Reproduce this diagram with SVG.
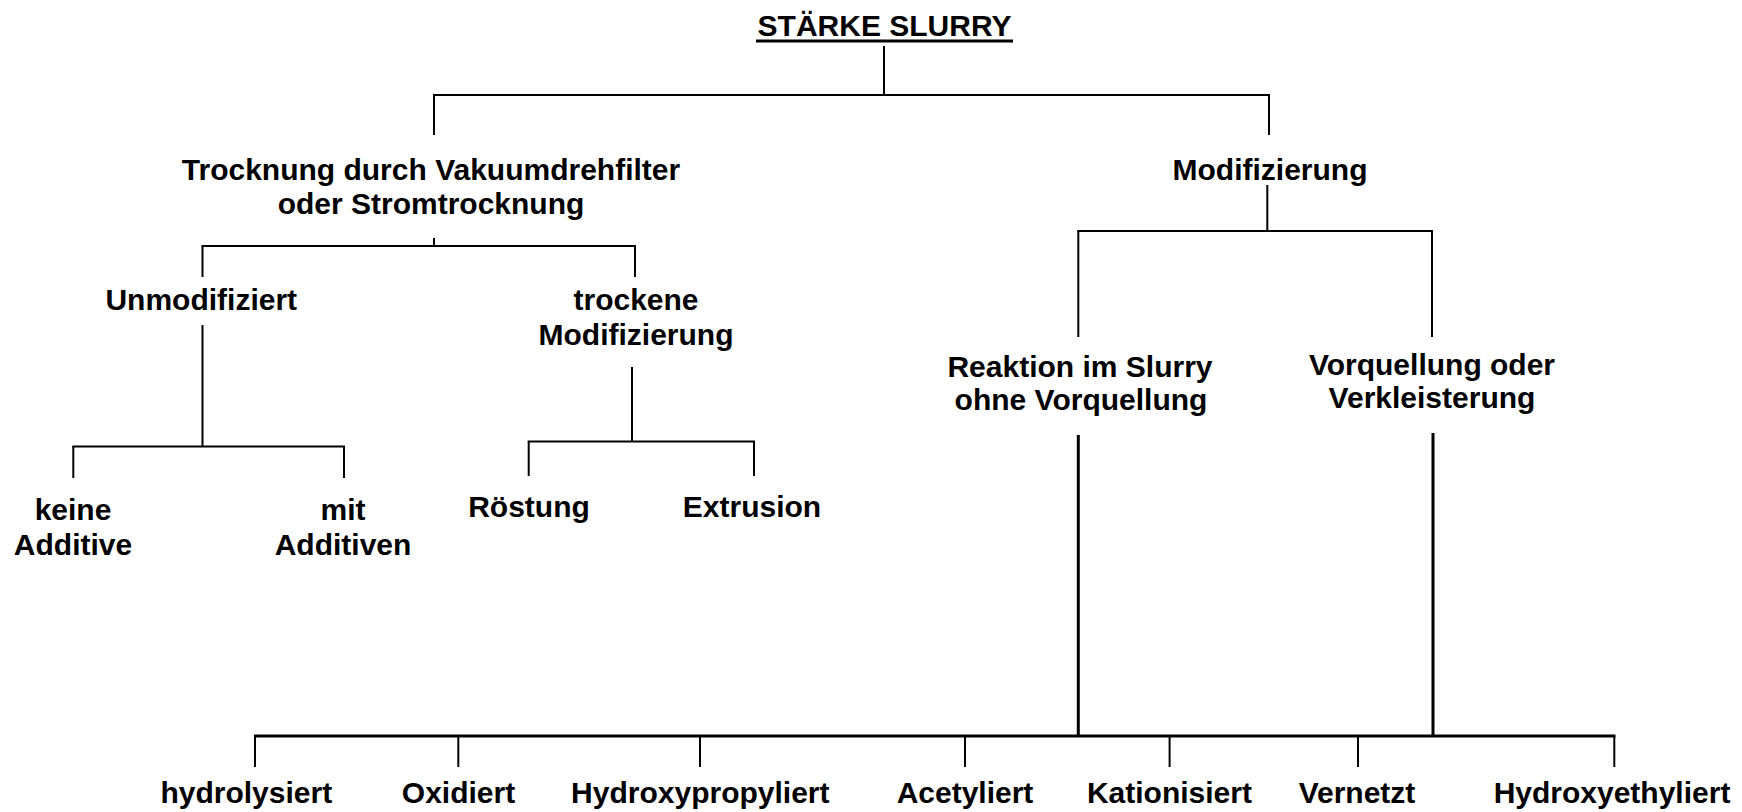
<svg xmlns="http://www.w3.org/2000/svg" width="1742" height="812" viewBox="0 0 1742 812">
<style>
text{font-family:"Liberation Sans",Arial,Helvetica,sans-serif;font-weight:bold;font-size:30px;fill:#000;text-anchor:middle}
.c line{stroke:#000;stroke-width:2;fill:none}
.c line.t{stroke-width:3}
</style>
<rect width="1742" height="812" fill="#fff"/>
<g class="c" id="connectors">
<line x1="884" y1="46" x2="884" y2="95"/>
<line x1="433" y1="95" x2="1270" y2="95"/>
<line x1="434" y1="95" x2="434" y2="135"/>
<line x1="1269" y1="95" x2="1269" y2="135"/>
<line x1="434" y1="238" x2="434" y2="246"/>
<line x1="201.5" y1="246" x2="636" y2="246"/>
<line x1="202.5" y1="246" x2="202.5" y2="277"/>
<line x1="635" y1="246" x2="635" y2="277"/>
<line x1="202.5" y1="325" x2="202.5" y2="446.5"/>
<line x1="72.3" y1="446.5" x2="345" y2="446.5"/>
<line x1="73.3" y1="446.5" x2="73.3" y2="478"/>
<line x1="344" y1="446.5" x2="344" y2="478"/>
<line x1="632" y1="367" x2="632" y2="441.5"/>
<line x1="527.7" y1="441.5" x2="755" y2="441.5"/>
<line x1="528.7" y1="441.5" x2="528.7" y2="476"/>
<line x1="754" y1="441.5" x2="754" y2="476"/>
<line x1="1267.3" y1="185" x2="1267.3" y2="231"/>
<line x1="1077.3" y1="231" x2="1433" y2="231"/>
<line x1="1078.3" y1="231" x2="1078.3" y2="337"/>
<line x1="1432" y1="231" x2="1432" y2="337"/>
<line class="t" x1="1078.3" y1="435" x2="1078.3" y2="736"/>
<line class="t" x1="1433" y1="433" x2="1433" y2="736"/>
<line class="t" x1="254" y1="736" x2="1615.5" y2="736"/>
<line x1="255" y1="736" x2="255" y2="767"/>
<line x1="458.3" y1="736" x2="458.3" y2="767"/>
<line x1="700" y1="736" x2="700" y2="767"/>
<line x1="965" y1="736" x2="965" y2="767"/>
<line x1="1169.6" y1="736" x2="1169.6" y2="767"/>
<line x1="1358" y1="736" x2="1358" y2="767"/>
<line x1="1614.3" y1="736" x2="1614.3" y2="767"/>
</g>
<g id="n-root"><text x="884.5" y="36">STÄRKE SLURRY</text><line x1="756" y1="41" x2="1013" y2="41" stroke="#000" stroke-width="3.2"/></g>
<g id="n-trocknung"><text x="431" y="180">Trocknung durch Vakuumdrehfilter</text><text x="431" y="214">oder Stromtrocknung</text></g>
<g id="n-modifizierung"><text x="1270" y="180">Modifizierung</text></g>
<g id="n-unmodifiziert"><text x="201.3" y="310">Unmodifiziert</text></g>
<g id="n-trockene"><text x="636" y="310">trockene</text><text x="636" y="345">Modifizierung</text></g>
<g id="n-keine"><text x="73" y="520">keine</text><text x="73" y="555">Additive</text></g>
<g id="n-mit"><text x="343" y="520">mit</text><text x="343" y="555">Additiven</text></g>
<g id="n-roestung"><text x="529" y="516.7">Röstung</text></g>
<g id="n-extrusion"><text x="752" y="516.7">Extrusion</text></g>
<g id="n-reaktion"><text x="1080" y="377">Reaktion im Slurry</text><text x="1081" y="410">ohne Vorquellung</text></g>
<g id="n-vorquellung"><text x="1432" y="375">Vorquellung oder</text><text x="1432" y="408.3">Verkleisterung</text></g>
<g id="n-hydrolysiert"><text x="246.3" y="803">hydrolysiert</text></g>
<g id="n-oxidiert"><text x="458.5" y="803">Oxidiert</text></g>
<g id="n-hydroxypropyliert"><text x="700.3" y="803">Hydroxypropyliert</text></g>
<g id="n-acetyliert"><text x="965" y="803">Acetyliert</text></g>
<g id="n-kationisiert"><text x="1169.4" y="803">Kationisiert</text></g>
<g id="n-vernetzt"><text x="1357" y="803">Vernetzt</text></g>
<g id="n-hydroxyethyliert"><text x="1612" y="803">Hydroxyethyliert</text></g>
</svg>
